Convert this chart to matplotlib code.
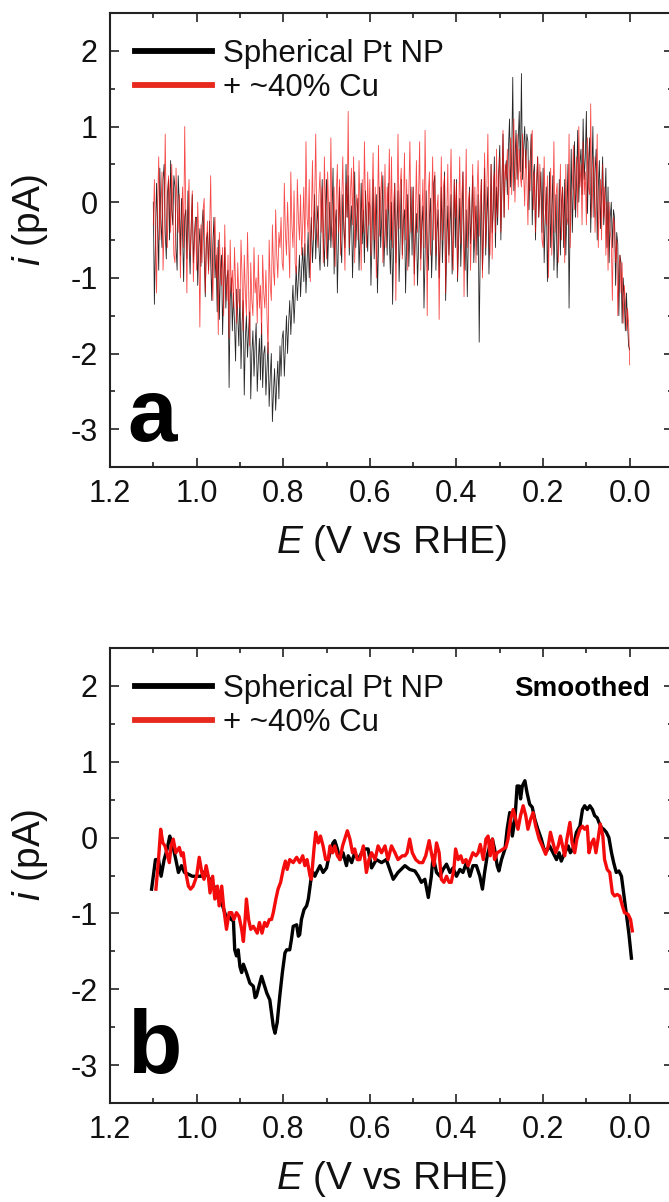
import numpy as np
import matplotlib
matplotlib.use("Agg")
import matplotlib.pyplot as plt
from matplotlib.ticker import MultipleLocator

plt.rcParams['font.family'] = ['Liberation Sans', 'DejaVu Sans']
plt.rcParams['mathtext.fontset'] = 'custom'
plt.rcParams['mathtext.it'] = 'Liberation Sans:italic'
plt.rcParams['mathtext.rm'] = 'Liberation Sans'

# ---------------- data ----------------
labels = ["Spherical Pt NP", "+ ~40% Cu"]

# panel a: raw currents on a 2.5 mV grid from 1.100 V to 0.000 V
E_raw = np.round(1.100 - 0.0025 * np.arange(441), 4)
i_raw_pt = [
    0.0, -1.35, -0.5, 0.25, -0.3, -0.9, 0.45, -0.2, -0.6, 0.3, 0.5, -0.4, -0.75, 0.1, 0.3, -0.5, 0.55, -0.1, -0.3, 0.35,
    0.2, -0.6, -0.9, 0.35, 0.0, -0.7, 0.05, -0.4, -1.05, -0.2, -0.1, -0.75, 0.15, -0.5, -0.95, -0.3, 0.1, -0.8, -0.45, -0.2,
    -0.2, -1.1, -0.6, -0.35, -0.85, -0.3, -0.1, -0.7, -1.25, -0.5, -0.4, -0.9, -0.25, -0.75, -1.3, -0.55, -0.2, -1.0, -0.7, -1.45,
    -0.5, -1.55, -0.9, -0.7, -1.75, -1.1, -0.6, -1.4, -1.0, -0.9, -2.45, -1.3, -1.0, -1.7, -1.2, -1.6, -2.1, -1.15, -1.5, -1.9,
    -1.15, -2.2, -1.6, -1.3, -2.55, -1.8, -1.5, -2.05, -1.7, -1.45, -2.6, -2.0, -1.7, -2.3, -1.9, -1.6, -2.5, -2.1, -1.8, -2.35,
    -1.6, -2.45, -2.0, -1.9, -2.55, -2.2, -1.85, -2.7, -2.3, -2.0, -2.9, -2.5, -2.2, -2.75, -2.4, -2.1, -2.6, -1.9, -2.3, -1.8,
    -1.7, -2.3, -1.9, -1.5, -2.0, -1.6, -1.3, -1.75, -1.4, -1.1, -1.6, -1.25, -0.85, -1.3, -1.0, -0.7, -1.25, -0.9, -0.6, -1.05,
    -0.55, -1.2, -0.8, -0.4, -1.0, -0.6, -0.2, -0.8, -0.45, 0.1, -0.75, -0.3, -0.05, -0.6, -0.9, -0.25, 0.3, -0.5, -0.85, -0.1,
    0.3, -0.85, -0.4, 0.0, -0.6, -0.2, 0.45, -0.95, -0.3, -0.1, -1.2, -0.5, 0.2, -0.5, -0.8, 0.1, -0.35, -0.6, 0.5, -0.2,
    0.35, -0.7, -0.3, -0.05, -1.0, -0.4, 0.4, -0.6, -0.2, 0.05, -0.9, -0.45, 0.25, -0.55, -0.1, -0.8, 0.15, -0.3, -0.65, 0.0,
    -0.05, -1.1, -0.5, 0.3, -0.75, -0.3, 0.1, -1.2, -0.6, 0.2, -0.6, -0.2, 0.35, -0.85, -0.4, -0.1, -0.7, 0.25, -0.5, -0.95,
    0.0, -1.35, -0.6, 0.25, -0.8, -0.3, 0.15, -1.05, -0.5, 0.3, -0.7, -0.25, -0.1, -1.2, -0.55, 0.1, -0.85, -0.4, 0.2, -0.7,
    0.2, -0.95, -0.45, -0.15, -1.1, -0.6, 0.1, -0.75, -0.3, -0.05, -1.4, -0.7, 0.15, -0.6, -0.9, -0.2, 0.05, -1.0, -0.5, 0.25,
    0.35, -0.9, -0.4, -0.1, -1.0, -0.5, 0.2, -0.8, -0.3, 0.4, -1.3, -0.6, -0.05, -0.7, -0.35, 0.1, -0.95, -0.5, 0.3, -0.6,
    0.3, -1.05, -0.5, 0.05, -0.85, -0.3, 0.4, -0.6, -0.9, -0.1, -1.25, -0.45, 0.2, -0.55, -0.2, 0.35, -0.8, -0.4, -0.05, -0.7,
    0.1, -1.85, -0.6, 0.3, -0.9, -0.4, 0.45, -0.7, -0.2, 0.2, -0.95, -0.35, 0.5, -0.4, -0.1, 0.6, -0.6, 0.2, -0.3, 0.4,
    0.75, -0.5, 0.2, 0.9, -0.2, 0.4, 0.55, 0.1, 0.7, 1.1, 0.2, 0.6, 1.65, 0.15, 0.5, 0.95, 0.3, 0.8, 1.2, 0.4,
    1.7, 0.3, 0.7, 1.0, 0.45, 0.9, 0.8, -0.1, 0.5, 0.9, -0.3, 0.35, 0.5, -0.5, 0.2, 0.6, -0.2, 0.1, 0.4, -0.4,
    0.45, -0.8, -0.2, 0.2, -1.05, -0.3, 0.4, -0.6, -0.1, 0.35, -0.9, -0.4, 0.1, -1.0, -0.5, 0.3, -0.7, 0.0, 0.2, -0.6,
    0.3, -0.7, -0.1, 0.5, -1.4, -0.2, 0.7, -0.4, 0.2, 0.8, -0.2, 0.3, 0.95, 0.0, 0.5, 0.7, 0.1, 1.1, 0.3, 0.6,
    1.2, -0.15, 0.5, 0.85, -0.4, 0.3, 1.0, -0.2, 0.4, 0.7, -0.5, 0.2, 0.55, -0.35, 0.1, 0.6, -0.3, 0.0, 0.45, -0.6,
    0.2, -0.8, -0.2, 0.0, -0.6, -0.1, -0.2, -1.1, -0.4, -0.55, -1.5, -0.7, -0.8, -1.6, -1.0, -1.3, -1.7, -1.2, -1.6, -1.9, -1.95,
]
i_raw_cu = [
    -0.3, 0.3, -0.5, -1.2, 0.0, 0.6, -0.5, -0.1, 0.4, -0.9, -0.3, 0.9, -0.2, -0.6, 0.35, 0.1, -0.4, 0.5, -0.1, -0.7,
    -0.8, 0.45, -0.1, -0.4, 0.1, -1.0, -0.3, 0.2, -0.6, 1.0, -0.2, -1.2, -0.1, 0.3, -0.7, -0.4, 0.15, -1.05, -0.5, -0.2,
    -0.9, 0.0, -0.5, -1.65, -0.3, -0.8, -0.1, 0.05, -1.2, -0.6, -0.25, -0.95, -0.4, 0.35, -0.8, -1.3, -0.5, -0.2, -1.0, -0.6,
    -1.75, -0.4, -0.9, -1.1, -0.6, -1.5, -0.3, -1.0, -1.3, -0.7, -1.8, -0.5, -1.2, -0.9, -1.4, -0.6, -1.1, -1.6, -0.8, -1.3,
    -1.4, -0.5, -1.0, -1.7, -0.7, -1.2, -1.5, -0.4, -1.1, -1.9, -0.8, -1.3, -1.5, -0.6, -1.2, -1.0, -1.6, -0.7, -1.4, -1.1,
    -1.75, -0.7, -1.2, -1.4, -0.9, -1.5, -2.0, -0.5, -1.1, -1.3, -0.3, -0.9, -1.1, -0.1, -0.7, -1.0, -0.4, -0.6, -0.2, -0.8,
    -0.9, 0.25, -0.4, -0.7, 0.0, -0.5, -1.0, 0.4, -0.3, -0.6, 0.15, -0.8, -0.95, 0.3, -0.2, -0.5, 0.1, -0.7, -0.3, 0.2,
    -0.7, 0.8, -0.2, -0.4, 0.3, -1.05, -0.2, 0.55, -0.5, 0.0, 0.9, -0.3, -0.6, 0.1, 0.4, -0.4, 0.2, -0.8, 0.6, -0.1,
    -0.75, 0.4, -0.1, -0.5, 0.85, -0.3, -0.6, 0.2, -0.85, 0.1, 0.5, -0.4, 0.3, -0.7, 0.0, 0.6, -0.3, -0.9, 0.25, -0.2,
    1.2, -0.6, 0.1, 0.45, -0.3, 0.6, -0.8, -0.1, 0.1, -0.5, 0.55, -0.2, -0.9, 0.3, -0.4, 0.8, -0.1, -0.6, 0.4, -0.3,
    0.3, -0.7, 0.0, 0.65, -0.5, 0.2, -1.0, -0.2, 0.75, -0.45, 0.1, 0.4, -0.8, -0.3, 0.5, -0.6, 0.2, -0.1, 0.7, -0.5,
    0.6, -0.6, 0.0, 0.25, -1.3, -0.2, 0.9, -0.35, 0.2, 0.45, -0.75, -0.1, 0.65, -0.5, 0.3, -0.9, 0.1, 0.8, -0.4, -0.1,
    0.2, -1.1, -0.3, 0.55, -0.4, 0.1, 0.8, -0.9, -0.2, 0.3, -0.6, 0.95, -0.1, -1.5, 0.1, 0.4, -0.7, -0.2, 0.6, -0.5,
    0.4, -0.7, -0.1, 0.1, -1.55, -0.3, 0.6, -0.5, 0.2, 0.35, -1.2, -0.2, 0.5, -0.8, 0.0, 0.7, -0.4, -0.9, 0.3, -0.2,
    0.25, -1.0, -0.2, 0.6, -0.55, 0.1, 0.4, -1.25, -0.3, 0.7, -0.6, 0.0, 0.15, -0.9, -0.3, 0.5, -0.5, 0.2, -0.8, 0.1,
    0.55, -0.45, 0.0, 0.3, -1.0, -0.2, 0.65, -0.6, 0.1, 0.9, -0.3, -0.7, 0.5, -0.75, 0.2, 0.4, -0.4, 0.7, -0.2, 0.3,
    0.6, -0.4, 0.2, 0.95, -0.2, 0.5, 0.3, 0.7, -0.1, 0.4, 0.85, 0.1, 0.6, 1.1, 0.0, 0.5, 0.9, 0.2, 0.7, 0.35,
    0.2, 0.9, 0.4, -0.05, 0.7, 0.3, -0.3, 0.55, 0.15, 0.8, 0.95, -0.1, 0.4, -0.4, 0.3, 0.6, -0.2, 0.5, 0.1, -0.5,
    -0.6, 0.6, -0.1, -0.3, 0.35, -1.0, 0.0, 0.45, -0.7, -0.2, 0.8, -0.4, 0.1, 0.25, -0.8, -0.3, 0.5, -0.5, 0.2, -0.2,
    -0.8, 0.5, -0.2, -0.3, 0.9, -0.6, 0.1, 0.2, 0.75, -0.1, 0.3, 0.6, -0.2, 1.0, 0.2, 0.5, -0.3, 0.8, 0.1, 0.4,
    -0.3, 0.85, 0.2, 0.1, 1.3, -0.2, 0.3, 0.6, -0.4, 0.1, 0.9, -0.6, 0.0, 0.3, -0.5, 0.5, -0.2, 0.2, -0.7, 0.0,
    -0.9, 0.0, -0.4, -0.5, -1.3, -0.2, -0.3, -0.8, -0.5, -1.5, -0.9, -0.7, -1.2, -0.8, -1.6, -1.1, -1.3, -1.7, -1.4, -1.6, -2.15,
]

# panel b: smoothed currents
E_sm_pt = [
    1.104, 1.095, 1.088, 1.082, 1.075, 1.068, 1.062, 1.055, 1.048, 1.042,
    1.035, 1.028, 1.020, 1.010, 1.000, 0.990, 0.980, 0.970, 0.960, 0.950,
    0.940, 0.930, 0.925, 0.920, 0.915, 0.912, 0.908, 0.904, 0.900, 0.896,
    0.892, 0.885, 0.877, 0.869, 0.865, 0.862, 0.854, 0.850, 0.845, 0.838,
    0.831, 0.823, 0.819, 0.814, 0.808, 0.802, 0.796, 0.792, 0.785, 0.781,
    0.777, 0.769, 0.765, 0.762, 0.758, 0.752, 0.746, 0.742, 0.738, 0.735,
    0.731, 0.727, 0.723, 0.715, 0.708, 0.700, 0.696, 0.692, 0.685, 0.681,
    0.675, 0.669, 0.662, 0.654, 0.650, 0.642, 0.635, 0.627, 0.619, 0.611,
    0.604, 0.596, 0.585, 0.573, 0.562, 0.554, 0.546, 0.535, 0.519, 0.508,
    0.496, 0.488, 0.481, 0.473, 0.465, 0.458, 0.454, 0.446, 0.438, 0.431,
    0.423, 0.415, 0.408, 0.400, 0.392, 0.385, 0.377, 0.369, 0.362, 0.354,
    0.346, 0.340, 0.335, 0.329, 0.323, 0.317, 0.312, 0.306, 0.302, 0.296,
    0.288, 0.283, 0.277, 0.271, 0.265, 0.260, 0.255, 0.252, 0.248, 0.242,
    0.237, 0.231, 0.225, 0.219, 0.212, 0.204, 0.198, 0.192, 0.185, 0.177,
    0.169, 0.163, 0.158, 0.150, 0.142, 0.137, 0.131, 0.123, 0.115, 0.109,
    0.104, 0.098, 0.092, 0.086, 0.081, 0.075, 0.071, 0.065, 0.060, 0.054,
    0.048, 0.042, 0.037, 0.031, 0.025, 0.019, 0.014, 0.008, 0.002, -0.004,
]
i_sm_pt = [
    -0.68, -0.29, -0.29, -0.51, -0.29, -0.15, 0.02, -0.11, -0.29, -0.46,
    -0.37, -0.46, -0.48, -0.51, -0.51, -0.51, -0.44, -0.55, -0.64, -0.81,
    -0.90, -1.08, -1.04, -1.08, -1.10, -1.48, -1.56, -1.48, -1.70, -1.78,
    -1.67, -1.78, -1.92, -1.96, -2.11, -2.09, -1.92, -1.83, -1.92, -2.05,
    -2.14, -2.49, -2.58, -2.44, -2.09, -1.78, -1.52, -1.48, -1.48, -1.34,
    -1.17, -1.15, -1.30, -1.28, -1.08, -0.95, -0.90, -0.81, -0.64, -0.51,
    -0.46, -0.51, -0.46, -0.37, -0.46, -0.40, -0.29, -0.20, -0.07, -0.04,
    -0.15, -0.29, -0.20, -0.37, -0.24, -0.33, -0.20, -0.29, -0.20, -0.15,
    -0.15, -0.40, -0.29, -0.33, -0.29, -0.42, -0.55, -0.46, -0.37, -0.42,
    -0.44, -0.51, -0.59, -0.55, -0.79, -0.51, -0.24, -0.46, -0.51, -0.42,
    -0.35, -0.46, -0.40, -0.51, -0.42, -0.46, -0.33, -0.51, -0.37, -0.37,
    -0.51, -0.68, -0.46, -0.24, -0.11, -0.02, -0.15, -0.37, -0.44, -0.29,
    -0.15, 0.11, 0.33, 0.02, 0.24, 0.68, 0.68, 0.51, 0.68, 0.75,
    0.59, 0.44, 0.40, 0.24, 0.11, -0.02, -0.15, -0.18, -0.11, -0.20,
    -0.29, -0.20, -0.31, -0.20, -0.11, -0.20, -0.15, 0.07, 0.15, 0.37,
    0.42, 0.37, 0.42, 0.37, 0.29, 0.26, 0.20, 0.13, 0.11, 0.07,
    0.00, -0.20, -0.33, -0.46, -0.44, -0.51, -0.73, -0.99, -1.26, -1.59,
]

E_sm_cu = [
    1.094, 1.088, 1.083, 1.078, 1.073, 1.069, 1.063, 1.059, 1.054, 1.048,
    1.040, 1.035, 1.031, 1.025, 1.019, 1.014, 1.008, 1.000, 0.994, 0.988,
    0.983, 0.978, 0.973, 0.969, 0.963, 0.958, 0.952, 0.948, 0.942, 0.937,
    0.931, 0.925, 0.919, 0.914, 0.908, 0.902, 0.896, 0.892, 0.888, 0.885,
    0.880, 0.875, 0.869, 0.865, 0.860, 0.855, 0.849, 0.843, 0.838, 0.832,
    0.827, 0.823, 0.817, 0.812, 0.806, 0.800, 0.795, 0.791, 0.785, 0.777,
    0.769, 0.762, 0.755, 0.750, 0.745, 0.738, 0.735, 0.729, 0.725, 0.719,
    0.714, 0.708, 0.702, 0.696, 0.692, 0.686, 0.681, 0.675, 0.669, 0.663,
    0.658, 0.652, 0.646, 0.640, 0.635, 0.629, 0.623, 0.615, 0.608, 0.602,
    0.596, 0.588, 0.581, 0.573, 0.565, 0.558, 0.550, 0.542, 0.535, 0.525,
    0.519, 0.514, 0.508, 0.502, 0.494, 0.486, 0.478, 0.471, 0.463, 0.458,
    0.452, 0.446, 0.440, 0.435, 0.429, 0.423, 0.417, 0.412, 0.406, 0.402,
    0.396, 0.390, 0.385, 0.378, 0.373, 0.368, 0.362, 0.355, 0.350, 0.345,
    0.338, 0.332, 0.327, 0.322, 0.317, 0.312, 0.306, 0.300, 0.292, 0.286,
    0.281, 0.275, 0.269, 0.263, 0.258, 0.252, 0.246, 0.240, 0.235, 0.229,
    0.223, 0.217, 0.209, 0.202, 0.194, 0.188, 0.183, 0.177, 0.171, 0.165,
    0.160, 0.155, 0.150, 0.145, 0.138, 0.133, 0.127, 0.122, 0.115, 0.109,
    0.104, 0.098, 0.094, 0.088, 0.083, 0.078, 0.073, 0.068, 0.062, 0.058,
    0.052, 0.046, 0.040, 0.035, 0.029, 0.023, 0.017, 0.012, 0.004, -0.002,
    -0.006,
]
i_sm_cu = [
    -0.68, -0.29, 0.11, -0.07, -0.11, -0.20, -0.33, -0.11, -0.02, -0.20,
    -0.13, -0.24, -0.20, -0.46, -0.64, -0.68, -0.64, -0.51, -0.26, -0.46,
    -0.55, -0.37, -0.51, -0.73, -0.51, -0.81, -0.64, -0.90, -0.64, -0.95,
    -1.21, -0.99, -0.99, -1.08, -0.99, -1.04, -1.21, -1.37, -1.08, -0.81,
    -1.08, -1.21, -1.17, -1.21, -1.26, -1.12, -1.26, -1.12, -1.17, -1.08,
    -1.08, -0.99, -0.81, -0.68, -0.59, -0.42, -0.31, -0.42, -0.29, -0.33,
    -0.26, -0.33, -0.24, -0.37, -0.29, -0.51, -0.55, -0.15, 0.07, -0.07,
    0.02, -0.11, -0.29, -0.29, -0.11, -0.20, -0.11, -0.24, -0.29, -0.11,
    -0.02, 0.09, -0.02, -0.20, -0.15, -0.29, -0.29, -0.11, -0.46, -0.29,
    -0.20, -0.29, -0.11, -0.20, -0.11, -0.29, -0.11, -0.20, -0.29, -0.24,
    -0.24, -0.20, -0.02, -0.20, -0.29, -0.33, -0.33, -0.24, -0.04, -0.20,
    -0.37, -0.07, -0.20, -0.55, -0.59, -0.51, -0.59, -0.59, -0.42, -0.15,
    -0.29, -0.24, -0.33, -0.29, -0.37, -0.29, -0.20, -0.24, -0.20, -0.09,
    -0.29, -0.02, 0.02, -0.24, -0.02, -0.29, -0.20, -0.18, -0.15, -0.13,
    -0.02, 0.24, 0.37, 0.24, 0.11, 0.29, 0.42, 0.29, 0.11, 0.24,
    0.33, 0.15, -0.02, -0.11, -0.22, -0.11, 0.07, -0.07, -0.20, -0.11,
    0.02, -0.11, -0.24, -0.02, 0.20, -0.07, -0.20, -0.02, 0.11, 0.15,
    0.11, 0.15, -0.20, -0.07, -0.02, -0.20, -0.02, 0.18, 0.02, -0.29,
    -0.42, -0.46, -0.73, -0.77, -0.75, -0.77, -0.90, -0.99, -1.01, -1.08,
    -1.23,
]

x_ticks = [1.2, 1.0, 0.8, 0.6, 0.4, 0.2, 0.0]
y_ticks = [-3, -2, -1, 0, 1, 2]

BLACK = '#000000'
RED = '#f40c0c'
RED_LEG = '#e8291e'

# ---------------- figure ----------------
W, H = 669, 1202
fig = plt.figure(figsize=(W / 100, H / 100), dpi=100)

def px_axes(left, top, right, bottom):
    return fig.add_axes([left / W, 1 - bottom / H, (right - left) / W, (bottom - top) / H])

ax_a = px_axes(110, 13, 673, 467)
ax_b = px_axes(110, 648, 673, 1103)

def style(ax):
    ax.set_xlim(1.2, -0.1)
    ax.set_ylim(-3.5, 2.5)
    ax.set_xticks(x_ticks)
    ax.set_xticklabels([f"{v:.1f}" for v in x_ticks])
    ax.set_yticks(y_ticks)
    ax.set_yticklabels([str(v) for v in y_ticks])
    ax.xaxis.set_minor_locator(MultipleLocator(0.1))
    ax.yaxis.set_minor_locator(MultipleLocator(0.5))
    ax.tick_params(which='both', direction='in', top=True, right=True, width=1.2, colors='#222222')
    ax.tick_params(which='major', length=6.5)
    ax.tick_params(which='minor', length=3.5)
    ax.tick_params(axis='x', which='major', labelsize=22, pad=9, labelcolor='#111111')
    ax.tick_params(axis='y', which='major', labelsize=22, pad=9, labelcolor='#111111')
    for s in ax.spines.values():
        s.set_linewidth(1.5)
        s.set_color('#222222')
    ax.set_xlabel(r'$\mathit{E}$ (V vs RHE)', fontsize=28, labelpad=10, color='#111111')
    ax.set_ylabel(r'$\mathit{i}$ (pA)', fontsize=28, color='#111111')
    ax.yaxis.set_label_coords(-0.107, 0.545)

def legend(ax):
    leg = ax.legend(loc='center left', bbox_to_anchor=(0.045, 0.8725), frameon=False,
                    fontsize=22.5, handlelength=2.45, handletextpad=0.35,
                    labelspacing=0.15, borderpad=0, borderaxespad=0)
    lines = leg.get_lines()
    for h in lines:
        h.set_linewidth(4.2)
        h.set_alpha(1)
    lines[1].set_color(RED_LEG)
    for t in leg.get_texts():
        t.set_color('#111111')
    return leg

# panel a
ax_a.plot(E_raw, i_raw_pt, color=BLACK, lw=0.6, alpha=0.85, label=labels[0])
ax_a.plot(E_raw, i_raw_cu, color=RED, lw=0.6, alpha=0.75, label=labels[1])
style(ax_a)
legend(ax_a)
ax_a.text(0.030, 0.057, 'a', transform=ax_a.transAxes, fontsize=64, fontweight='bold',
          va='baseline', ha='left')

# panel b
ax_b.plot(E_sm_pt, i_sm_pt, color=BLACK, lw=2.4, label=labels[0])
ax_b.plot(E_sm_cu, i_sm_cu, color=RED, lw=2.4, label=labels[1])
style(ax_b)
legend(ax_b)
ax_b.text(0.030, 0.066, 'b', transform=ax_b.transAxes, fontsize=64, fontweight='bold',
          va='baseline', ha='left')
ax_b.text(0.959, 0.910, 'Smoothed', transform=ax_b.transAxes, fontsize=20, fontweight='bold',
          va='center', ha='right')

fig.savefig('out.png', dpi=100, facecolor='white')
